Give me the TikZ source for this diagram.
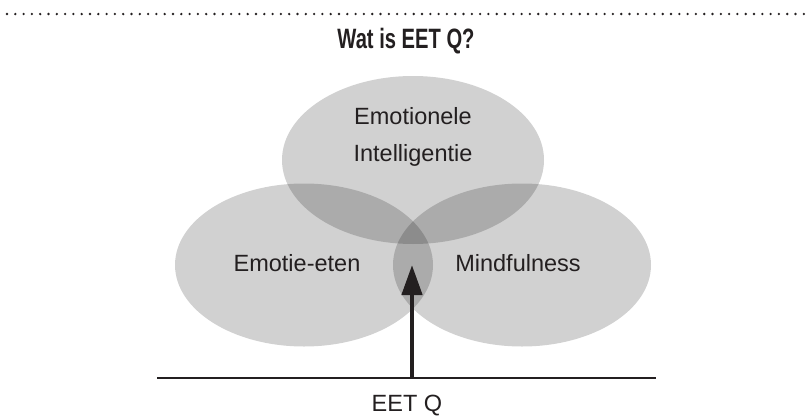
\documentclass[tikz,border=0pt]{standalone}
\usepackage{fontspec}
\setmainfont{Liberation Sans}
\newfontfamily\titlefont[FakeStretch=0.72]{Liberation Sans}
\usetikzlibrary{shapes.geometric,arrows.meta}
\definecolor{ink}{HTML}{231F20}
\tikzset{
  blob/.style={ellipse, fill=black, fill opacity=0.18, draw=none, inner sep=0pt},
  lbl/.style={text=ink, font=\fontsize{23.5}{37}\selectfont, align=center, inner sep=0pt},
  ttl/.style={text=ink, font=\titlefont\bfseries\fontsize{28}{32}\selectfont, inner sep=0pt},
  dotline/.style={ink, line width=2.6pt, line cap=round, dash pattern=on 0pt off 8.3pt},
  baseline/.style={ink, line width=2.2pt},
  uparrow/.style={ink, line width=4.5pt, -{Triangle[width=20pt,length=30pt]}}
}
\begin{document}
\begin{tikzpicture}[x=1pt,y=-1pt]
\useasboundingbox (0,0) rectangle (807,418);
\coordinate (dl) at (7,14);
\coordinate (dr) at (807,14);
\draw[dotline] (dl) -- (dr);
\node[ttl] (title) at (406,41) {Wat is EET Q?};
\node[blob, minimum width=262pt, minimum height=168pt] (ei) at (413,160) {};
\node[blob, minimum width=258pt, minimum height=163pt] (ee) at (304,265) {};
\node[blob, minimum width=258pt, minimum height=163pt] (mf) at (522,265) {};
\node[lbl] (eit) at (413,137) {Emotionele\\Intelligentie};
\node[lbl] (eet) at (297,263) {Emotie-eten};
\node[lbl] (mft) at (518,263) {Mindfulness};
\coordinate (bl) at (157,378);
\coordinate (br) at (656,378);
\coordinate (base) at (412,378);
\coordinate (tip) at (412,265);
\draw[baseline] (bl) -- (br);
\draw[uparrow] (base) -- (tip);
\node[lbl] (eq) at (407,406) {EET Q};
\end{tikzpicture}
\end{document}
